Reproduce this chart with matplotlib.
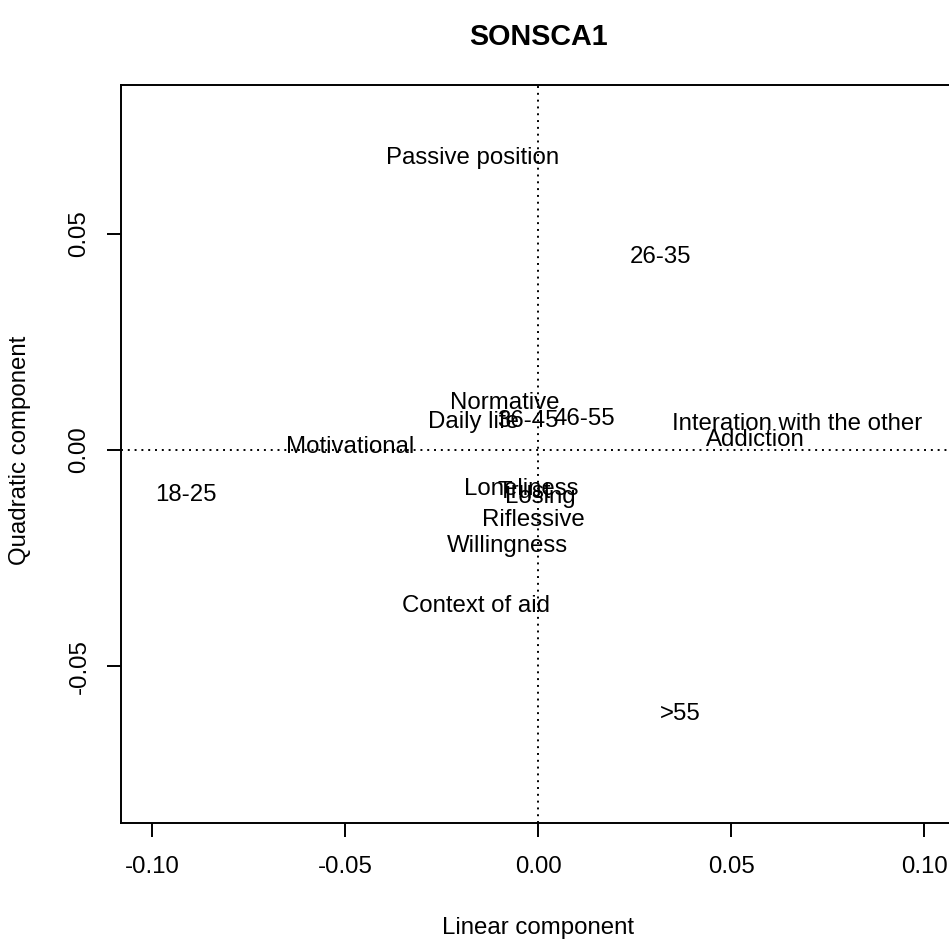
import matplotlib
matplotlib.use("Agg")
import matplotlib.pyplot as plt
from matplotlib.ticker import FixedLocator, FormatStrFormatter

plt.rcParams['font.family'] = ['Liberation Sans', 'DejaVu Sans']
plt.rcParams['axes.unicode_minus'] = False

labels = ["Passive position", "26-35", "Normative", "Daily life", "36-45", "46-55",
          "Interation with the other", "Addiction", "Motivational", "18-25",
          "Loneliness", "Trust", "Losing", "Riflessive", "Willingness",
          "Context of aid", ">55"]
linear = [-0.0170, 0.0316, -0.0087, -0.0167, -0.0027, 0.0120,
          0.0671, 0.0563, -0.0487, -0.0913,
          -0.0044, -0.0036, 0.0006, -0.0013, -0.0078,
          -0.0161, 0.0368]
quadratic = [0.0675, 0.0446, 0.0110, 0.0066, 0.0068, 0.0072,
             0.0061, 0.0024, 0.0008, -0.0105,
             -0.0089, -0.0098, -0.0108, -0.0161, -0.0221,
             -0.0360, -0.0610]
xticks = [-0.10, -0.05, 0.00, 0.05, 0.10]
yticks = [-0.05, 0.00, 0.05]

W, H = 949, 940
fig = plt.figure(figsize=(W / 100, H / 100), dpi=100)
left_px, right_px, top_px, bottom_px = 121, 955, 85, 823
ax = fig.add_axes([left_px / W, (H - bottom_px) / H,
                   (right_px - left_px) / W, (bottom_px - top_px) / H])

ax.set_xlim(-0.108, 0.108)
ax.set_ylim(-0.0863, 0.0845)

fs = 17.3
for lab, x, y in zip(labels, linear, quadratic):
    ax.text(x, y, lab, ha='center', va='center', fontsize=fs, color='black')

ax.axhline(0, color='black', lw=1.4, linestyle=(0, (1, 2.5)))
ax.axvline(0, color='black', lw=1.4, linestyle=(0, (1, 2.5)))

for s in ax.spines.values():
    s.set_linewidth(1.4)
    s.set_color('black')

ax.xaxis.set_major_locator(FixedLocator(xticks))
ax.yaxis.set_major_locator(FixedLocator(yticks))
ax.xaxis.set_major_formatter(FormatStrFormatter('%.2f'))
ax.yaxis.set_major_formatter(FormatStrFormatter('%.2f'))
ax.tick_params(axis='both', length=10, width=1.4, labelsize=fs, color='black')
ax.tick_params(axis='x', pad=14)
ax.tick_params(axis='y', pad=12)
for t in ax.get_yticklabels():
    t.set_rotation(90)
    t.set_va('center')
    t.set_ha('right')

ax.set_xlabel('Linear component', fontsize=fs)
ax.set_ylabel('Quadratic component', fontsize=fs)
h_ax = bottom_px - top_px
w_ax = right_px - left_px
ax.xaxis.set_label_coords((538 - left_px) / w_ax, (bottom_px - 928) / h_ax)
ax.xaxis.label.set_va('center')
ax.yaxis.set_label_coords((20 - left_px) / w_ax, (bottom_px - 450) / h_ax)
ax.yaxis.label.set_va('center')

ax.set_title('SONSCA1', fontsize=20.7, fontweight='bold', pad=0,
             y=(bottom_px - 37) / h_ax, va='center')

fig.savefig('out.png', dpi=100)
